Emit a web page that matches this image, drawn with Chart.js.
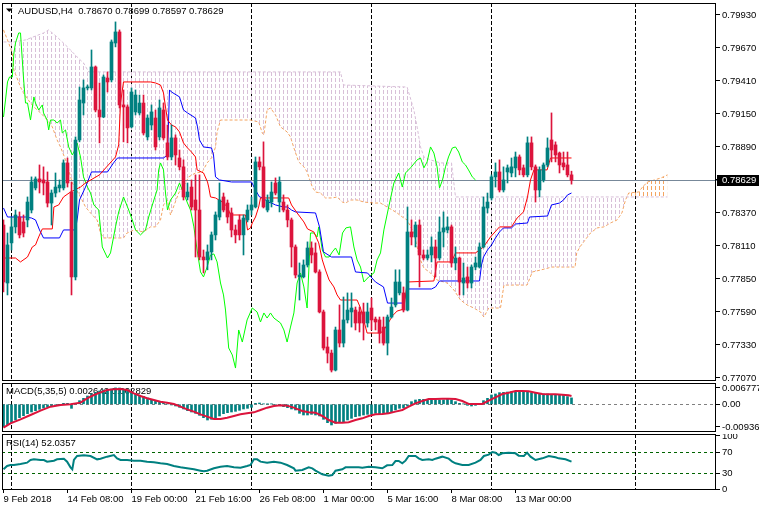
<!DOCTYPE html>
<html>
<head>
<meta charset="utf-8">
<title>AUDUSD,H4</title>
<script src="https://cdn.jsdelivr.net/npm/chart.js@4.4.1/dist/chart.umd.min.js"></script>
<style>
html,body{margin:0;padding:0;background:#ffffff;}
#wrap{position:relative;width:759px;height:511px;overflow:hidden;background:#ffffff;}
#wrap canvas{position:absolute;left:0;}
</style>
</head>
<body>
<div id="wrap">
<canvas id="cMain" width="759" height="384" style="top:0px;width:759px;height:384px"></canvas>
<canvas id="cMacd" width="759" height="49" style="top:383px;width:759px;height:49px"></canvas>
<canvas id="cRsi" width="759" height="77" style="top:434px;width:759px;height:77px"></canvas>
</div>
<script>
// ---------------- DATA ----------------
const symbolTitle = 'AUDUSD,H4';
const macdTitle = 'MACD(5,35,5) 0.002642 0.002829';
const rsiTitle = 'RSI(14) 52.0357';

const timeLabels = ['9 Feb 2018','14 Feb 08:00','19 Feb 00:00','21 Feb 16:00','26 Feb 08:00','1 Mar 00:00','5 Mar 16:00','8 Mar 08:00','13 Mar 00:00'];
const timeLabelBars = [0,16,32,48,64,80,96,112,128];
const weekSeparators = [2,32,62,92,122,158];

const priceTicks = [0.79930,0.79670,0.79410,0.79150,0.78890,0.78630,0.78370,0.78110,0.77850,0.77590,0.77330,0.77070];
const macdTicks = [0.006777,0,-0.009364];
const macdTickLabels = ['0.006777','0.00','-0.009364'];
const rsiTicks = [100,70,30,0];
const rsiLevels = [70,30];

const openP = [
0.78275,0.77818,0.78134,0.78260,0.78338,0.78299,0.78315,0.78393,0.78567,0.78638,
0.78630,0.78614,0.78448,0.78527,0.78567,0.78567,0.78764,0.78535,0.77866,0.78945,
0.79236,0.79355,0.79355,0.79520,0.79181,0.79126,0.79433,0.79418,0.79709,0.79796,
0.79221,0.79205,0.79048,0.79166,0.79158,0.79236,0.78969,0.79063,0.79118,0.78969,
0.79181,0.78922,0.78811,0.78961,0.78803,0.78733,0.78496,0.78574,0.78472,0.78393,
0.78023,0.78000,0.78063,0.78197,0.78338,0.78496,0.78448,0.78370,0.78236,0.78315,
0.78197,0.78315,0.78393,0.78417,0.78772,0.78733,0.78393,0.78456,0.78606,0.78456,
0.78456,0.78393,0.78315,0.78102,0.77866,0.77866,0.77960,0.78094,0.78055,0.77905,
0.77590,0.77314,0.77266,0.77132,0.77448,0.77345,0.77527,0.77590,0.77605,0.77590,
0.77590,0.77503,0.77621,0.77534,0.77527,0.77471,0.77345,0.77550,0.77645,0.77740,
0.77740,0.77605,0.78220,0.78181,0.78275,0.78039,0.78015,0.78039,0.78102,0.78015,
0.78220,0.78236,0.78260,0.77976,0.78015,0.77818,0.77866,0.77818,0.77944,0.77944,
0.78102,0.78409,0.78488,0.78654,0.78693,0.78551,0.78693,0.78685,0.78725,0.78811,
0.78725,0.78670,0.78922,0.78733,0.78551,0.78630,0.78748,0.78945,0.78906,0.78842,
0.78764,0.78748,0.78670];
const highP = [
0.78315,0.78212,0.78338,0.78393,0.78378,0.78354,0.78496,0.78654,0.78654,0.78748,
0.78733,0.78693,0.78551,0.78685,0.78630,0.78788,0.78803,0.78614,0.78969,0.79362,
0.79418,0.79378,0.79654,0.79528,0.79394,0.79457,0.79481,0.79733,0.79875,0.79812,
0.79339,0.79221,0.79355,0.79339,0.79299,0.79299,0.79142,0.79221,0.79181,0.79260,
0.79236,0.79063,0.79063,0.78985,0.78866,0.78788,0.78606,0.78630,0.78670,0.78670,
0.78078,0.78118,0.78220,0.78378,0.78606,0.78527,0.78472,0.78409,0.78275,0.78354,
0.78354,0.78433,0.78496,0.78811,0.78811,0.78930,0.78512,0.78614,0.78646,0.78654,
0.78512,0.78433,0.78330,0.78118,0.77976,0.78000,0.78142,0.78142,0.78134,0.77922,
0.77605,0.77392,0.77290,0.77471,0.77645,0.77708,0.77740,0.77740,0.77629,0.77629,
0.77660,0.77660,0.77700,0.77550,0.77550,0.77550,0.77566,0.77700,0.77922,0.77922,
0.77787,0.78417,0.78315,0.78299,0.78315,0.78078,0.78078,0.78181,0.78157,0.78338,
0.78378,0.78338,0.78275,0.78102,0.78023,0.77976,0.77944,0.77960,0.78023,0.78134,
0.78496,0.78527,0.78670,0.78764,0.78788,0.78733,0.78748,0.78803,0.78850,0.78827,
0.78748,0.78969,0.78969,0.78748,0.78733,0.78764,0.78961,0.79158,0.78930,0.78850,
0.78850,0.78850,0.78699];
const lowP = [
0.77748,0.77724,0.78078,0.78212,0.78173,0.78181,0.78260,0.78370,0.78551,0.78527,
0.78512,0.78417,0.78275,0.78496,0.78535,0.78551,0.78574,0.77724,0.77842,0.78930,
0.79142,0.79339,0.79339,0.79166,0.78922,0.79120,0.79323,0.79402,0.79678,0.79197,
0.78930,0.78922,0.79040,0.79142,0.79142,0.78985,0.78945,0.79024,0.78866,0.78945,
0.78945,0.78788,0.78788,0.78748,0.78709,0.78472,0.78472,0.78393,0.78023,0.78000,
0.77897,0.77922,0.78000,0.78157,0.78315,0.78378,0.78291,0.78181,0.78134,0.78157,
0.78039,0.78299,0.78354,0.78409,0.78709,0.78409,0.78378,0.78417,0.78512,0.78378,
0.78378,0.78260,0.77944,0.77858,0.77684,0.77858,0.77944,0.77976,0.77897,0.77582,
0.77290,0.77188,0.77117,0.77125,0.77314,0.77314,0.77503,0.77471,0.77448,0.77432,
0.77369,0.77471,0.77448,0.77448,0.77345,0.77329,0.77251,0.77542,0.77629,0.77724,
0.77590,0.77598,0.78118,0.78102,0.77787,0.78000,0.78000,0.77984,0.77866,0.78000,
0.78102,0.78212,0.77944,0.77922,0.77724,0.77724,0.77779,0.77779,0.77922,0.77936,
0.78094,0.78370,0.78472,0.78574,0.78535,0.78535,0.78606,0.78654,0.78654,0.78670,
0.78654,0.78654,0.78709,0.78456,0.78496,0.78614,0.78733,0.78772,0.78772,0.78685,
0.78709,0.78654,0.78597];
const closeP = [
0.77826,0.78118,0.78260,0.78354,0.78197,0.78212,0.78456,0.78614,0.78638,0.78614,
0.78606,0.78448,0.78527,0.78574,0.78590,0.78764,0.78606,0.77866,0.78945,0.79260,
0.79355,0.79362,0.79520,0.79181,0.79126,0.79441,0.79402,0.79717,0.79796,0.79221,
0.79205,0.79040,0.79323,0.79299,0.79236,0.79000,0.79118,0.79166,0.78890,0.79197,
0.78961,0.78811,0.78961,0.78827,0.78733,0.78496,0.78535,0.78417,0.78393,0.78023,
0.78000,0.78063,0.78197,0.78354,0.78472,0.78393,0.78338,0.78236,0.78197,0.78197,
0.78330,0.78393,0.78433,0.78772,0.78733,0.78417,0.78472,0.78535,0.78527,0.78614,
0.78393,0.78315,0.78102,0.77881,0.77881,0.77960,0.78094,0.78039,0.77905,0.77590,
0.77306,0.77266,0.77132,0.77448,0.77345,0.77527,0.77605,0.77621,0.77503,0.77503,
0.77503,0.77590,0.77527,0.77511,0.77424,0.77345,0.77550,0.77629,0.77826,0.77826,
0.77605,0.78220,0.78181,0.78275,0.78039,0.78015,0.78039,0.78102,0.78015,0.78220,
0.78252,0.78260,0.77976,0.78015,0.77826,0.77858,0.77818,0.77944,0.77976,0.78102,
0.78417,0.78456,0.78654,0.78693,0.78551,0.78630,0.78725,0.78733,0.78811,0.78709,
0.78670,0.78922,0.78733,0.78551,0.78709,0.78748,0.78882,0.78866,0.78827,0.78748,
0.78733,0.78670,0.78629];

// Ichimoku lines, [bar, price] pairs
const tenkan = [[0,0.78015],[3,0.78015],[4.25,0.77984],[6,0.78023],[7.2,0.78102],[8,0.78118],[8.8,0.78181],[9.7,0.78244],[12.2,0.78244],[12.6,0.78417],[13.8,0.78433],[15,0.78496],[16.75,0.78535],[19.25,0.78574],[20.5,0.78606],[24,0.78670],[28,0.78811],[28.8,0.78906],[29.25,0.79236],[30,0.79402],[36.75,0.79402],[38,0.79394],[39.25,0.79378],[40,0.79315],[40.5,0.79205],[41,0.79102],[42,0.79063],[43,0.79048],[44,0.79008],[45,0.78921],[46,0.78882],[47,0.78850],[48,0.78811],[48.4,0.78709],[50,0.78685],[51,0.78614],[51.3,0.78574],[51.75,0.78496],[53,0.78488],[54.7,0.78456],[56,0.78417],[56.75,0.78354],[60.5,0.78354],[61,0.78236],[61.75,0.78252],[62.2,0.78291],[63,0.78338],[63.8,0.78417],[64.25,0.78488],[71.3,0.78488],[72,0.78433],[73.4,0.78370],[75.1,0.78299],[76,0.78244],[77.6,0.78220],[78.8,0.78134],[79.7,0.78000],[80.5,0.77920],[81.4,0.77842],[82.6,0.77787],[83.4,0.77724],[84.25,0.77684],[88.4,0.77684],[89.25,0.77621],[90.9,0.77424],[94.25,0.77424],[95.1,0.77448],[95.9,0.77487],[97.2,0.77558],[98.4,0.77597],[100.1,0.77613],[100.9,0.77826],[107.6,0.77834],[108.4,0.77984],[112,0.77984],[113,0.78055],[118,0.78055],[120,0.78102],[121.75,0.78181],[124,0.78260],[127,0.78260],[128.4,0.78330],[130,0.78378],[131,0.78496],[131.75,0.78630],[132.6,0.78709],[135.9,0.78709],[136.75,0.78803],[142,0.78803]];
const kijun = [[0,0.78409],[1,0.78338],[5.5,0.78338],[7,0.78330],[8,0.78315],[9,0.78236],[10,0.78173],[14,0.78173],[15,0.78236],[18,0.78236],[18.5,0.78338],[19,0.78472],[20.5,0.78574],[22,0.78693],[26,0.78693],[27.5,0.78764],[28.5,0.78803],[40,0.78803],[41,0.78827],[41.5,0.79339],[42,0.79323],[44,0.79284],[45,0.79181],[46,0.79158],[48,0.79118],[48.5,0.79048],[49,0.78945],[50,0.78890],[52,0.78882],[52.5,0.78827],[53,0.78654],[54,0.78630],[57,0.78614],[62,0.78614],[63,0.78551],[64,0.78496],[65,0.78488],[66,0.78456],[67,0.78448],[68,0.78433],[70,0.78417],[71,0.78417],[72,0.78393],[73,0.78378],[78,0.78370],[79,0.78260],[80,0.78063],[82,0.78023],[87,0.78023],[88,0.77905],[91,0.77897],[93,0.77826],[95,0.77787],[96,0.77660],[100,0.77660],[101,0.77771],[107,0.77771],[108,0.77787],[109,0.77834],[119,0.77834],[119.5,0.77960],[120,0.78023],[121,0.78078],[122,0.78118],[123,0.78173],[124,0.78220],[125,0.78252],[127,0.78252],[128,0.78283],[131,0.78291],[131.5,0.78338],[136,0.78346],[137,0.78433],[139,0.78448],[140,0.78472],[141,0.78512],[142,0.78527]];
const chikou = [[0,0.79126],[0.5,0.79260],[1,0.79402],[1.5,0.79441],[2.2,0.79441],[2.6,0.79630],[3,0.79709],[3.8,0.79788],[4.25,0.79788],[4.7,0.79575],[5,0.79433],[5.5,0.79236],[6,0.79236],[6.75,0.79102],[7.6,0.79284],[8,0.79236],[8.8,0.79181],[9.7,0.79221],[10,0.79158],[10.9,0.79102],[11.3,0.79024],[11.75,0.79102],[12.6,0.79102],[13.4,0.79079],[14.25,0.79102],[14.7,0.79000],[15.5,0.79024],[16.3,0.78890],[17.2,0.78827],[17.6,0.78850],[18.4,0.78921],[19.25,0.78811],[20,0.78654],[21,0.78574],[21.75,0.78527],[22.6,0.78433],[23.8,0.78393],[24.7,0.78102],[26,0.78015],[26.75,0.78055],[28,0.78260],[28.8,0.78378],[30,0.78496],[31.3,0.78393],[32.2,0.78315],[33,0.78236],[34.25,0.78197],[35.5,0.78236],[36.3,0.78338],[37.6,0.78472],[38.4,0.78551],[38.8,0.78709],[39.25,0.78764],[40,0.78709],[40.5,0.78527],[41,0.78393],[41.75,0.78472],[43,0.78527],[44,0.78606],[45,0.78527],[46,0.78448],[46.75,0.78393],[47.6,0.78260],[48.4,0.78078],[49.25,0.77905],[50,0.77866],[50.9,0.77944],[51.75,0.78039],[52.6,0.78047],[53.4,0.77984],[54.25,0.77818],[55,0.77724],[55.5,0.77605],[56.3,0.77306],[57.2,0.77251],[58,0.77148],[58.8,0.77448],[59.7,0.77353],[60.9,0.77527],[62.2,0.77621],[63.4,0.77590],[64.25,0.77511],[65.1,0.77582],[65.9,0.77542],[66.75,0.77582],[67.6,0.77542],[69.25,0.77503],[70.1,0.77448],[70.9,0.77353],[71.75,0.77471],[72.6,0.77582],[73.4,0.77818],[74.25,0.77897],[75.1,0.77787],[75.9,0.77621],[76.75,0.78212],[77.6,0.78212],[78.4,0.78181],[78.8,0.78260],[79.7,0.78078],[80.5,0.78023],[81.4,0.78023],[82.2,0.78063],[83,0.78094],[83.9,0.78039],[84.75,0.78212],[85.6,0.78252],[86.75,0.78260],[87.6,0.78102],[88.4,0.78000],[89.25,0.77944],[90.1,0.77826],[91.3,0.77866],[92.6,0.77897],[93.4,0.78000],[94.25,0.78055],[95.1,0.78236],[96.3,0.78417],[97.6,0.78606],[98.8,0.78685],[99.7,0.78574],[100.5,0.78685],[101.75,0.78725],[103.4,0.78788],[104.25,0.78803],[105.1,0.78725],[105.9,0.78772],[106.75,0.78890],[107.6,0.78842],[108.4,0.78733],[109,0.78567],[109.75,0.78630],[110.5,0.78733],[111.25,0.78811],[112.2,0.78882],[113,0.78890],[113.8,0.78850],[114.7,0.78772],[115.5,0.78748],[116.25,0.78709],[117.2,0.78654],[118,0.78630]];
const senkouA = [[0,0.79812],[1.3,0.79709],[2.2,0.79630],[2.6,0.79496],[4.25,0.79362],[5,0.79315],[6.75,0.79236],[7.6,0.79205],[9.25,0.79158],[11,0.79102],[12.2,0.79048],[13.4,0.78945],[14.25,0.78890],[15.5,0.78788],[16.3,0.78709],[17.2,0.78606],[19.25,0.78496],[20.5,0.78417],[21.75,0.78370],[23.4,0.78315],[24.25,0.78212],[25,0.78173],[30,0.78173],[30.9,0.78212],[32.6,0.78236],[35,0.78220],[36.75,0.78260],[38,0.78260],[39.25,0.78315],[40,0.78433],[41,0.78472],[41.75,0.78354],[43.8,0.78527],[45.5,0.78606],[46.3,0.78654],[48,0.78685],[49.7,0.78693],[50.9,0.78764],[52.2,0.78811],[53,0.78890],[53.4,0.79008],[54.25,0.79102],[61.75,0.79102],[63.8,0.79087],[64.7,0.79000],[65.1,0.78985],[65.9,0.79181],[66.75,0.79197],[68,0.79142],[69.25,0.79048],[70.9,0.79008],[71.75,0.78969],[72.6,0.78882],[73.8,0.78772],[75.1,0.78733],[75.9,0.78693],[77.2,0.78574],[78,0.78535],[79.25,0.78527],[80.5,0.78488],[82.2,0.78488],[83.4,0.78496],[84.7,0.78456],[85.5,0.78448],[86.75,0.78472],[88.4,0.78472],[90.1,0.78456],[92.6,0.78448],[94.25,0.78448],[95.9,0.78417],[97.2,0.78393],[98.4,0.78370],[99.7,0.78338],[100.9,0.78315],[102.6,0.78212],[103.4,0.78102],[104.25,0.78000],[105.1,0.77936],[106.75,0.77897],[108.4,0.77842],[110.9,0.77818],[112.6,0.77763],[114.25,0.77684],[115.9,0.77645],[117.6,0.77621],[119.25,0.77590],[120.1,0.77550],[121.3,0.77621],[124.25,0.77621],[125.1,0.77802],[130.9,0.77802],[132.2,0.77905],[134.25,0.77920],[137.1,0.77944],[142.9,0.77944],[143.3,0.78055],[144.1,0.78102],[145.4,0.78157],[146.75,0.78212],[148.4,0.78252],[150.1,0.78260],[151.75,0.78291],[153.4,0.78315],[154.6,0.78370],[155.5,0.78472],[156.3,0.78527],[158.8,0.78535],[159.75,0.78574],[161,0.78614],[162.75,0.78630],[164.4,0.78646],[166,0.78670]];
const senkouB = [[0,0.79717],[2.6,0.79717],[5.5,0.79733],[10,0.79788],[11.3,0.79812],[13.4,0.79756],[16,0.79678],[18.4,0.79599],[20,0.79552],[21.3,0.79481],[84.25,0.79481],[85,0.79378],[100.9,0.79362],[102.6,0.79181],[103.4,0.79048],[104.25,0.78890],[105.1,0.78811],[106.75,0.78788],[109.25,0.78764],[112,0.78764],[113,0.78496],[166,0.78496]];

const macdHist = [
-0.00936,-0.00842,-0.00759,-0.00649,-0.00552,-0.00470,-0.00387,-0.00318,-0.00263,-0.00208,
-0.00153,-0.00112,-0.00070,-0.00029,-0.00001,0.00040,0.00040,-0.00167,0.00040,0.00150,
0.00247,0.00343,0.00426,0.00494,0.00550,0.00591,0.00618,0.00632,0.00678,0.00674,
0.00618,0.00577,0.00508,0.00412,0.00371,0.00329,0.00260,0.00205,0.00164,0.00123,
0.00040,0.00012,-0.00029,-0.00070,-0.00125,-0.00194,-0.00263,-0.00318,-0.00373,-0.00456,
-0.00552,-0.00649,-0.00621,-0.00566,-0.00483,-0.00387,-0.00346,-0.00318,-0.00291,-0.00249,
-0.00194,-0.00167,-0.00125,0.00040,0.00054,0.00012,0.00012,0.00012,-0.00029,-0.00056,
-0.00098,-0.00139,-0.00194,-0.00236,-0.00373,-0.00442,-0.00442,-0.00415,-0.00442,-0.00483,
-0.00621,-0.00759,-0.00855,-0.00786,-0.00718,-0.00718,-0.00649,-0.00580,-0.00511,-0.00483,
-0.00442,-0.00415,-0.00415,-0.00373,-0.00401,-0.00373,-0.00346,-0.00304,-0.00236,-0.00167,
-0.00139,-0.00070,0.00109,0.00178,0.00205,0.00205,0.00205,0.00205,0.00178,0.00178,
0.00178,0.00205,0.00178,0.00109,0.00040,0.00012,-0.00043,-0.00070,-0.00043,0.00012,
0.00150,0.00247,0.00384,0.00426,0.00481,0.00494,0.00508,0.00522,0.00536,0.00550,
0.00536,0.00508,0.00481,0.00453,0.00453,0.00426,0.00426,0.00412,0.00398,0.00384,
0.00384,0.00320,0.00264];
const macdSignal = [[0,-0.00966],[1.75,-0.00786],[4.25,-0.00621],[6.75,-0.00442],[9.25,-0.00263],[11.75,-0.00098],[14.25,-0.00029],[16.75,-0.00001],[19.25,0.00067],[20.9,0.00247],[22.6,0.00384],[24.25,0.00494],[25.9,0.00591],[27.6,0.00618],[29.25,0.00632],[30.9,0.00591],[32.6,0.00453],[34.25,0.00343],[35.9,0.00247],[37.6,0.00178],[39.25,0.00109],[40.9,0.00067],[42.6,0.00012],[44.25,-0.00098],[45.9,-0.00208],[47.6,-0.00304],[49.25,-0.00415],[50.9,-0.00511],[52.6,-0.00607],[54.25,-0.00607],[55.9,-0.00552],[57.6,-0.00483],[59.25,-0.00415],[60.9,-0.00373],[62.6,-0.00332],[64.25,-0.00236],[65.9,-0.00139],[67.6,-0.00070],[69.25,-0.00043],[70.9,-0.00056],[72.6,-0.00139],[73,-0.00167],[74.7,-0.00277],[76.3,-0.00332],[78,-0.00346],[79.7,-0.00483],[81.3,-0.00649],[83,-0.00759],[84.7,-0.00759],[86.3,-0.00745],[88,-0.00649],[89.7,-0.00580],[91.3,-0.00483],[93,-0.00415],[94.7,-0.00401],[96.3,-0.00373],[98,-0.00304],[99.7,-0.00236],[101.3,-0.00098],[103,0.00040],[104.7,0.00136],[106.3,0.00219],[108,0.00219],[109.7,0.00233],[111.3,0.00233],[113,0.00219],[114.7,0.00136],[116.3,0.00012],[118,0.00012],[119.7,0.00012],[121.3,0.00150],[123,0.00288],[124.7,0.00426],[126.3,0.00481],[128,0.00550],[129.7,0.00550],[131.3,0.00536],[133,0.00481],[134.7,0.00426],[136.3,0.00412],[138,0.00412],[139.7,0.00398],[141.3,0.00370],[142,0.00340]];
const rsi14 = [[0,37.5],[0.9,43.75],[1.75,45.6],[2.6,45.6],[4.25,47.5],[5.9,50],[6.75,55],[7.6,56.25],[9.25,55],[10.1,55],[10.9,51.9],[12.6,53.75],[13.4,56.25],[15.1,57.5],[15.9,51.9],[16.75,41.25],[17.2,37.5],[17.6,55],[18.4,62.5],[20.1,63.75],[21.75,62.5],[23.4,56.25],[24.25,57.5],[25.9,61.25],[27.6,64.4],[28.4,58.1],[29.25,55],[30.9,55],[32.6,53.75],[34.25,53.75],[35.9,51.9],[37.6,50.6],[39.25,48.75],[40.9,47.5],[42.6,43.75],[44.25,41.25],[45.9,39.4],[47.6,37.5],[49.25,35],[50.1,33.75],[50.9,35],[52.6,39.4],[54.25,42.5],[55.9,43.75],[57.6,41.25],[59.25,40.6],[60.9,43.75],[61.75,45.6],[62.6,56.25],[63.4,56.25],[64.25,51.9],[65.9,50],[67.6,51.9],[69.25,50],[70.9,45.6],[72.6,39.4],[73,35],[74.7,36.25],[76.3,41.25],[77.2,39.4],[78,35],[79.7,28.1],[81.3,25.6],[82.2,26.9],[83,35],[84.7,37.5],[85.5,41.25],[87.2,41.25],[88.8,41.25],[89.7,40.6],[91.3,42.5],[93,41.25],[94.7,39.4],[95.9,45],[97.2,45.6],[98,53.1],[98.8,53.1],[99.7,48.75],[100.5,53.75],[101.3,62.5],[103,62.5],[103.8,58.1],[104.7,55],[106.3,56.25],[107.2,55],[108,57.5],[109.7,61.25],[111.3,57.5],[112.2,51.9],[113,48.75],[114.7,45.6],[116.3,45.6],[118,50],[119.25,55],[120.1,62.5],[121.3,65],[122.2,70],[123,68.75],[123.8,64.4],[124.7,67.5],[126.3,68.75],[128,67.5],[128.8,63.1],[130.1,62.5],[130.9,68.75],[131.75,61.25],[133,55],[134.7,58.1],[136.3,62.5],[138,60],[138.8,58.1],[140.5,56.25],[142,52.0357]];

// ---------------- RENDER ----------------
const FONT_FAMILY = "'Liberation Sans', Arial, sans-serif";
const FONT = "9.5px " + FONT_FAMILY;
const BULL = '#008080', BEAR = '#DC143C';
const X_MIN = -0.375, X_MAX = 178.125;
const lastBar = closeP.length - 1;

Chart.defaults.font.family = FONT_FAMILY;
Chart.defaults.font.size = 9.5;
Chart.defaults.color = '#000000';

const pts = arr => arr.map(p => ({x: p[0], y: p[1]}));
const candleColors = closeP.map((c, i) => c >= openP[i] ? BULL : BEAR);

function hatch(color) {
  const c = document.createElement('canvas');
  c.width = 4; c.height = 6;
  const g = c.getContext('2d');
  g.fillStyle = color;
  g.fillRect(3, 0, 1, 4);
  return g.createPattern(c, 'repeat');
}

function xAxis(show) {
  const ax = {type: 'linear', min: X_MIN, max: X_MAX, display: show, offset: false};
  if (show) {
    ax.afterFit = s => { s.height = 21; s.paddingLeft = 0; s.paddingRight = 0; };
    ax.afterBuildTicks = s => { s.ticks = timeLabelBars.map(v => ({value: v})); };
    ax.ticks = {autoSkip: false, maxRotation: 0, minRotation: 0, align: 'start', padding: 1,
      callback: (v, i) => timeLabels[i]};
    ax.grid = {drawOnChartArea: false, drawTicks: true, tickLength: 3, color: '#000000'};
    ax.border = {display: false};
  }
  return ax;
}
function rightAxis(min, max, ticks, fmt) {
  return {
    type: 'linear', position: 'right', min: min, max: max,
    afterFit: s => { s.width = 43; s.paddingTop = 0; s.paddingBottom = 0; },
    afterBuildTicks: s => { s.ticks = ticks.map(v => ({value: v})); },
    ticks: {autoSkip: false, padding: 2, callback: (v, i) => fmt(v, i)},
    grid: {drawOnChartArea: false, drawTicks: true, tickLength: 4, color: '#000000'},
    border: {display: false}
  };
}

const decor = {
  id: 'decor',
  beforeDatasetsDraw(chart, args, opts) {
    const panel = opts.panel;
    if (!panel) return;
    const ctx = chart.ctx, a = chart.chartArea, x = chart.scales.x, y = chart.scales.y;
    ctx.save();
    ctx.beginPath(); ctx.rect(a.left, a.top, a.right - a.left, a.bottom - a.top); ctx.clip();
    ctx.lineWidth = 1;
    let levels = [];
    if (panel === 'macd') levels = [{v: 0, c: '#808080'}];
    if (panel === 'rsi') levels = rsiLevels.map(v => ({v: v, c: '#006400'}));
    levels.forEach(l => {
      const py = Math.round(y.getPixelForValue(l.v)) + 0.5;
      ctx.strokeStyle = l.c; ctx.setLineDash([3, 3]);
      ctx.beginPath(); ctx.moveTo(a.left, py); ctx.lineTo(a.right, py); ctx.stroke();
    });
    ctx.strokeStyle = '#000000'; ctx.setLineDash([4, 2]);
    weekSeparators.forEach(b => {
      const px = Math.floor(x.getPixelForValue(b)) + 0.5;
      ctx.beginPath(); ctx.moveTo(px, a.top); ctx.lineTo(px, a.bottom); ctx.stroke();
    });
    ctx.setLineDash([]);
    if (panel === 'macd') {
      ctx.fillStyle = '#000000'; ctx.font = FONT; ctx.textBaseline = 'middle'; ctx.textAlign = 'left';
      ctx.fillText(macdTitle, a.left + 4, a.top + 8);
    }
    ctx.restore();
  },
  beforeDatasetDraw(chart, args, opts) {
    if (opts.panel !== 'main' || args.index !== 2) return;
    const ctx = chart.ctx, a = chart.chartArea, y = chart.scales.y;
    const py = Math.round(y.getPixelForValue(closeP[lastBar])) + 0.5;
    ctx.save();
    ctx.strokeStyle = '#778899'; ctx.lineWidth = 1; ctx.setLineDash([]);
    ctx.beginPath(); ctx.moveTo(a.left, py); ctx.lineTo(a.right + 2, py); ctx.stroke();
    ctx.restore();
  },
  afterDraw(chart, args, opts) {
    const panel = opts.panel;
    if (!panel) return;
    const ctx = chart.ctx, a = chart.chartArea, y = chart.scales.y;
    ctx.save();
    ctx.strokeStyle = '#000000'; ctx.lineWidth = 1; ctx.setLineDash([]);
    ctx.strokeRect(a.left + 0.5, a.top + 0.5, a.right - a.left - 1, a.bottom - a.top - 1);
    ctx.font = FONT; ctx.textBaseline = 'middle'; ctx.textAlign = 'left'; ctx.fillStyle = '#000000';
    if (panel === 'main') {
      ctx.beginPath(); ctx.moveTo(6, 8.5); ctx.lineTo(12.5, 8.5); ctx.lineTo(9.25, 12); ctx.closePath(); ctx.fill();
      const hdr = symbolTitle + '  ' + [openP[lastBar], highP[lastBar], lowP[lastBar], closeP[lastBar]].map(v => v.toFixed(5)).join(' ');
      ctx.fillText(hdr, 18, 11);
      const py = Math.round(y.getPixelForValue(closeP[lastBar]));
      ctx.fillStyle = '#000000';
      ctx.fillRect(a.right + 1, py - 5, chart.width - a.right - 1, 11);
      ctx.fillStyle = '#ffffff';
      ctx.fillText(closeP[lastBar].toFixed(5), a.right + 6, py + 0.5);
    }
    if (panel === 'rsi') {
      ctx.fillText(rsiTitle, a.left + 4, a.top + 9);
    }
    ctx.restore();
  }
};
Chart.register(decor);

const commonPlugins = p => ({legend: {display: false}, tooltip: {enabled: false}, decor: {panel: p}});

// Main price panel
new Chart(document.getElementById('cMain'), {
  type: 'line',
  data: {datasets: [
    {type: 'line', label: 'Senkou Span A', data: pts(senkouA), borderColor: '#F4A460', borderWidth: 1, borderDash: [3, 2], pointRadius: 0, fill: false, order: 10},
    {type: 'line', label: 'Senkou Span B', data: pts(senkouB), borderColor: '#D8BFD8', borderWidth: 1, borderDash: [3, 2], pointRadius: 0,
      fill: {target: 0, above: hatch('#D8BFD8'), below: hatch('#F4A460')}, order: 9},
    {type: 'line', label: 'Chikou Span', data: pts(chikou), borderColor: '#00FF00', borderWidth: 1, pointRadius: 0, fill: false, order: 8},
    {type: 'line', label: 'Kijun-sen', data: pts(kijun), borderColor: '#0000FF', borderWidth: 1, pointRadius: 0, fill: false, order: 7},
    {type: 'line', label: 'Tenkan-sen', data: pts(tenkan), borderColor: '#FF0000', borderWidth: 1, pointRadius: 0, fill: false, order: 6},
    {type: 'bar', label: 'Range', data: closeP.map((c, i) => ({x: i, y: [lowP[i], highP[i]]})), backgroundColor: candleColors, borderWidth: 0, barThickness: 1, grouped: false, order: 2},
    {type: 'bar', label: 'Body', data: closeP.map((c, i) => ({x: i, y: [openP[i], c]})), backgroundColor: candleColors, borderWidth: 0, barThickness: 3, minBarLength: 1, grouped: false, order: 1}
  ]},
  options: {
    responsive: false, animation: false, events: [],
    layout: {padding: {left: 2, top: 3, bottom: 3, right: 0}},
    scales: {
      x: xAxis(false),
      y: rightAxis(0.77046, 0.80024, priceTicks, v => v.toFixed(5))
    },
    plugins: commonPlugins('main')
  }
});

// MACD panel
new Chart(document.getElementById('cMacd'), {
  type: 'bar',
  data: {datasets: [
    {type: 'line', label: 'Signal', data: pts(macdSignal), borderColor: '#DC143C', borderWidth: 2, pointRadius: 0, fill: false, order: 1},
    {type: 'bar', label: 'MACD', data: macdHist.map((v, i) => ({x: i, y: v})), backgroundColor: BULL, borderWidth: 0, barThickness: 2, grouped: false, order: 2}
  ]},
  options: {
    responsive: false, animation: false, events: [],
    layout: {padding: {left: 2, top: 0, bottom: 0, right: 0}},
    scales: {
      x: xAxis(false),
      y: rightAxis(-0.01145, 0.0088, macdTicks, (v, i) => macdTickLabels[i])
    },
    plugins: commonPlugins('macd')
  }
});

// RSI panel
new Chart(document.getElementById('cRsi'), {
  type: 'line',
  data: {datasets: [
    {type: 'line', label: 'RSI(14)', data: pts(rsi14), borderColor: '#008080', borderWidth: 2, pointRadius: 0, fill: false}
  ]},
  options: {
    responsive: false, animation: false, events: [],
    layout: {padding: {left: 2, top: 0, bottom: 0, right: 0}},
    scales: {
      x: xAxis(true),
      y: rightAxis(-1.25, 103.75, rsiTicks, v => String(v))
    },
    plugins: commonPlugins('rsi')
  }
});
</script>
</body>
</html>
